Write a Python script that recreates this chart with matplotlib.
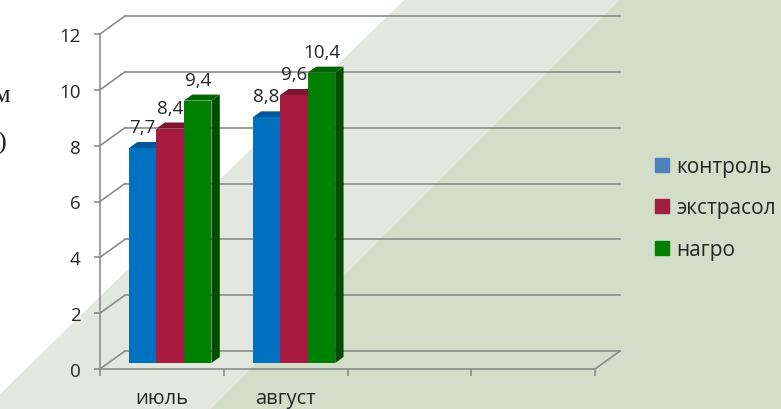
import matplotlib
matplotlib.use('Agg')
import matplotlib.pyplot as plt
from matplotlib.patches import Polygon, Rectangle

plt.rcParams['font.family'] = ['Open Sans', 'DejaVu Sans']

# data
categories = ['июль', 'август', '', '']
series_names = ['контроль', 'экстрасол', 'нагро']
kontrol = [7.7, 8.8]
ekstrasol = [8.4, 9.6]
nagro = [9.4, 10.4]
yticks = [0, 2, 4, 6, 8, 10, 12]

front_colors = ['#0070C0', '#A61B3F', '#008000']
top_colors = ['#00579A', '#7E1430', '#006400']
side_colors = ['#004A85', '#6E1029', '#004D00']
legend_colors = ['#4F81BD', '#A0203F', '#008000']
text_color = '#262626'
grid_color = '#8C8C8C'

W, H = 781, 410
fig = plt.figure(figsize=(W / 100, H / 100), dpi=100)

# background bands (pixel coords)
bg = fig.add_axes([0, 0, 1, 1])
bg.set_xlim(0, W)
bg.set_ylim(H, 0)
bg.axis('off')
bg.add_patch(Rectangle((0, 0), W, H, color='white', zorder=0))
bg.add_patch(Polygon([(405, 0), (620, 0), (210, H), (0, H), (0, 395)],
                     closed=True, color='#E3E8DE', lw=0, zorder=1))
bg.add_patch(Polygon([(620, 0), (W, 0), (W, H), (210, H)],
                     closed=True, color='#D3DEC8', lw=0, zorder=1))
# cut-off axis title on the left edge
bg.text(10, 102, 'м', ha='right', va='baseline', fontsize=19,
        family='Liberation Serif', color='#222222')
bg.text(6, 150, ')', ha='right', va='baseline', fontsize=19,
        family='Liberation Serif', color='#222222')

# main axes: front plane, x in categories, y in values
x0, x1, y0, y1 = 100, 595, 370, 35
ax = fig.add_axes([x0 / W, (H - y0) / H, (x1 - x0) / W, (y0 - y1) / H])
ax.set_xlim(0, len(categories))
ax.set_ylim(0, 12)
ax.patch.set_alpha(0)

cat_px = (x1 - x0) / len(categories)
val_px = (y0 - y1) / 12
DX = 25 / cat_px      # depth vector in data units
DY = 18 / val_px

# back wall + side wall gridlines
for t in yticks:
    ax.plot([0, DX], [t, t + DY], color=grid_color, lw=1.2, clip_on=False, zorder=1)
    ax.plot([DX, len(categories) + DX], [t + DY, t + DY], color=grid_color,
            lw=1.2, clip_on=False, zorder=1)
ax.plot([len(categories), len(categories) + DX], [0, DY], color=grid_color,
        lw=1.2, clip_on=False, zorder=1)

for s in ['top', 'right']:
    ax.spines[s].set_visible(False)
for s in ['left', 'bottom']:
    ax.spines[s].set_color(grid_color)
    ax.spines[s].set_linewidth(1.2)

ax.set_yticks(yticks)
ax.tick_params(axis='y', length=4, width=1.2, color=grid_color, pad=10,
               labelsize=13.5, labelcolor=text_color)
ax.set_xticks(range(len(categories) + 1))
ax.set_xticklabels([])
ax.tick_params(axis='x', which='major', length=5, width=1.2, color=grid_color)
ax.set_xticks([i + 0.5 for i in range(len(categories))], minor=True)
ax.set_xticklabels(categories, minor=True)
ax.tick_params(axis='x', which='minor', length=0, pad=14, labelsize=14.5,
               labelcolor=text_color)

# bars
bw = 27.5 / cat_px
sx, sy = DX / 3, DY / 3
z = 3
for j, vals in enumerate([kontrol, ekstrasol, nagro]):
    xs = [i + 0.5 + sx + (j - 1) * bw for i in range(len(vals))]
    ax.bar(xs, vals, width=bw, bottom=sy, color=front_colors[j], lw=0,
           zorder=z + 2, label=series_names[j])
    for xc, v in zip(xs, vals):
        xl, xr, top = xc - bw / 2, xc + bw / 2, v + sy
        ax.add_patch(Polygon([(xr, sy), (xr + sx, 2 * sy), (xr + sx, top + sy), (xr, top)],
                             closed=True, color=side_colors[j], lw=0, zorder=z))
        ax.add_patch(Polygon([(xl, top), (xr, top), (xr + sx, top + sy), (xl + sx, top + sy)],
                             closed=True, color=top_colors[j], lw=0, zorder=z + 1))
        ax.annotate(f'{v:.1f}'.replace('.', ','), (xc, top), xytext=(0, 15),
                    textcoords='offset points', ha='center', va='center',
                    fontsize=13.5, color=text_color, zorder=20,
                    annotation_clip=False)
    z += 3

# legend
handles = [Rectangle((0, 0), 1, 1, color=c) for c in legend_colors]
fig.legend(handles, series_names, loc='center left',
           bbox_to_anchor=(655 / W, 1 - 209 / H), frameon=False, fontsize=15,
           handlelength=0.67, handleheight=0.67, handletextpad=0.35,
           labelspacing=0.98, borderpad=0, borderaxespad=0,
           labelcolor=text_color)

fig.savefig('out.png', dpi=100)
